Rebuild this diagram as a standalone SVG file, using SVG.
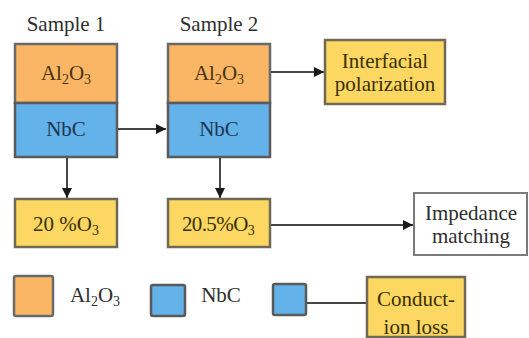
<svg xmlns="http://www.w3.org/2000/svg" width="529" height="338" viewBox="0 0 529 338" font-family="Liberation Serif, DejaVu Serif, serif">
<style>
text{font-size:21px;text-anchor:middle;fill:#2e2e2e}
.org{fill:#FAB665;stroke:#6a6a6a;stroke-width:2.5}
.blu{fill:#63B2EA;stroke:#5a5a5a;stroke-width:2.5}
.yel{fill:#FCD762;stroke:#6e6a55;stroke-width:2.5}
.wht{fill:#ffffff;stroke:#7a7a7a;stroke-width:2}
.tb{fill:#4a3410}
.tn{fill:#1e3550}
.ty{fill:#3a3000}
.sub{font-size:14px}
.conn line{stroke:#474747;stroke-width:2}
</style>
<defs>
<marker id="ah" viewBox="0 0 10 10" refX="10" refY="5" markerWidth="10" markerHeight="10" markerUnits="userSpaceOnUse" orient="auto">
<path d="M0,0 L10,5 L0,10 z" fill="#1a1a1a"/>
</marker>
</defs>
<g id="conn" class="conn">
<line x1="117" y1="129" x2="166" y2="129" marker-end="url(#ah)"/>
<line x1="270" y1="72" x2="324" y2="72" marker-end="url(#ah)"/>
<line x1="67" y1="157" x2="67" y2="198" marker-end="url(#ah)"/>
<line x1="220" y1="157" x2="220" y2="198" marker-end="url(#ah)"/>
<line x1="270" y1="225" x2="413" y2="225" marker-end="url(#ah)"/>
<line x1="306" y1="303" x2="367" y2="303"/>
</g>
<g id="sample1">
<text x="66" y="31">Sample 1</text>
<rect class="org" x="15" y="44" width="102" height="59"/>
<rect class="blu" x="15" y="103" width="102" height="54"/>
<text class="tb" x="66" y="80">Al<tspan class="sub" dy="4">2</tspan><tspan dy="-4">O</tspan><tspan class="sub" dy="4">3</tspan></text>
<text class="tn" x="66" y="136">NbC</text>
</g>
<g id="sample2">
<text x="219" y="31">Sample 2</text>
<rect class="org" x="168" y="44" width="102" height="59"/>
<rect class="blu" x="168" y="103" width="102" height="54"/>
<text class="tb" x="219" y="80">Al<tspan class="sub" dy="4">2</tspan><tspan dy="-4">O</tspan><tspan class="sub" dy="4">3</tspan></text>
<text class="tn" x="219" y="136">NbC</text>
</g>
<g id="interfacial">
<rect class="yel" x="325" y="40" width="120" height="64"/>
<text class="ty" x="385" y="68">Interfacial</text>
<text class="ty" x="385" y="91">polarization</text>
</g>
<g id="o20">
<rect class="yel" x="15" y="199" width="102" height="48"/>
<text class="ty" x="66" y="231">20 %O<tspan class="sub" dy="4">3</tspan></text>
</g>
<g id="o205">
<rect class="yel" x="168" y="199" width="102" height="48"/>
<text class="ty" x="218" y="231" font-size="19" letter-spacing="-0.6">20.5%O<tspan class="sub" dy="4">3</tspan></text>
</g>
<g id="impedance">
<rect class="wht" x="414" y="193" width="113" height="62"/>
<text x="471" y="220">Impedance</text>
<text x="471" y="243">matching</text>
</g>
<g id="legend-al2o3">
<rect class="org" x="14" y="276" width="39" height="40" rx="2"/>
<text x="95" y="302">Al<tspan class="sub" dy="4">2</tspan><tspan dy="-4">O</tspan><tspan class="sub" dy="4">3</tspan></text>
</g>
<g id="legend-nbc">
<rect class="blu" x="151" y="285" width="34" height="31" rx="2"/>
<text x="221" y="302">NbC</text>
</g>
<g id="legend-conduction">
<rect class="blu" x="273" y="284" width="33" height="31" rx="2"/>
</g>
<g id="conduction">
<rect class="yel" x="367" y="277" width="98" height="60"/>
<text class="ty" x="416" y="306">Conduct-</text>
<text class="ty" x="416" y="334">ion loss</text>
</g>
</svg>
